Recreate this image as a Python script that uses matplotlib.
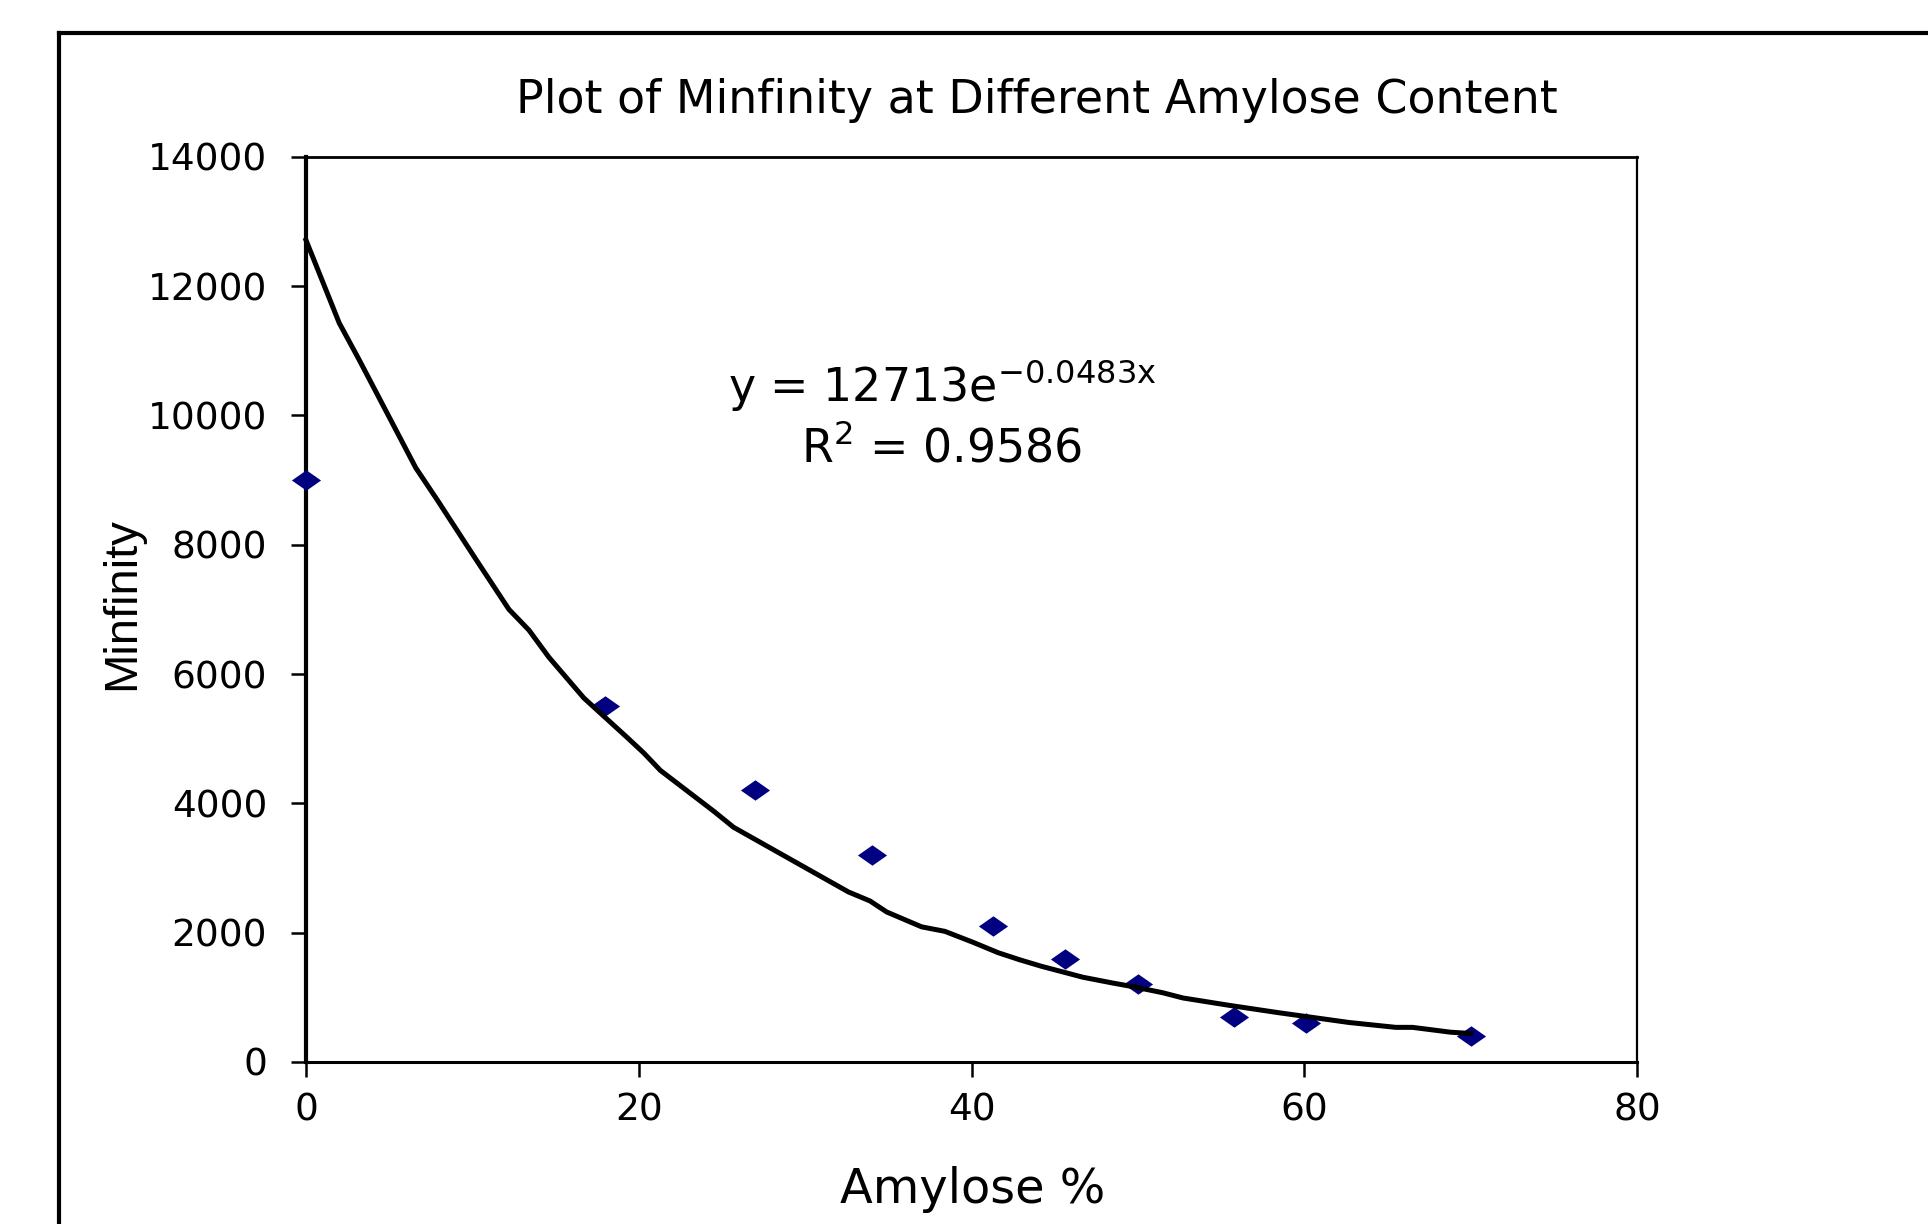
import matplotlib
matplotlib.use("Agg")
import matplotlib.pyplot as plt
from matplotlib.lines import Line2D

# data points
amylose = [0, 18, 27, 34, 41.3, 45.6, 50, 55.8, 60.1, 70]
minfinity = [9000, 5500, 4200, 3200, 2100, 1600, 1200, 700, 600, 400]

# exponential trendline as drawn in the chart
trend_x = [0, 2.0, 3.2, 6.6, 7.9, 10.2, 12.2, 13.4, 14.6, 16.7, 19.3, 20.3, 21.3,
           24.5, 25.7, 32.6, 33.9, 34.9, 37.0, 38.4, 40.1, 41.6, 42.9, 44.2, 46.7,
           48.5, 49.8, 51.5, 52.7, 55.5, 58.5, 62.7, 65.5, 66.5, 68.8, 70.0]
trend_y = [12713, 11430, 10860, 9190, 8690, 7780, 7000, 6680, 6260, 5630, 5020, 4780, 4510,
           3880, 3630, 2630, 2490, 2320, 2090, 2020, 1850, 1690, 1580, 1480, 1310,
           1220, 1160, 1070, 990, 875, 760, 610, 535, 535, 460, 440]

x_ticks = [0, 20, 40, 60, 80]
y_ticks = [0, 2000, 4000, 6000, 8000, 10000, 12000, 14000]

plt.rcParams['font.family'] = ['DejaVu Sans']

fig = plt.figure(figsize=(19.28, 12.24), dpi=100)
ax = fig.add_axes([0.1587, 0.1324, 0.6904, 0.7394])

# flattened diamond marker
diamond = [(-1, 0), (0, 0.7), (1, 0), (0, -0.7), (-1, 0)]
ax.plot(amylose, minfinity, linestyle='none', marker=diamond, markersize=21,
        color='#000080', markeredgewidth=0, clip_on=False, zorder=5)
ax.plot(trend_x, trend_y, color='black', linewidth=3.6, zorder=6, clip_on=False)

ax.set_xlim(0, 80)
ax.set_ylim(0, 14000)
ax.set_xticks(x_ticks)
ax.set_yticks(y_ticks)
ax.tick_params(axis='both', labelsize=27, length=11, width=1.8, direction='out')
ax.tick_params(axis='y', pad=17)
ax.tick_params(axis='x', pad=11)

ax.spines['left'].set_linewidth(3)
ax.spines['bottom'].set_linewidth(2.2)
ax.spines['top'].set_linewidth(2)
ax.spines['right'].set_linewidth(1.6)

# titles and labels
fig.text(0.5379, 0.9077, 'Plot of Minfinity at Different Amylose Content',
         fontsize=33, ha='center', va='baseline')
fig.text(0.5044, 0.0172, 'Amylose %', fontsize=34.5, ha='center', va='baseline')
fig.text(0.0635, 0.5065, 'Minfinity', fontsize=34, rotation=90, ha='center', va='center',
         family=['Liberation Sans Narrow', 'Liberation Sans', 'DejaVu Sans'])

# trendline equation
fig.text(0.4886, 1 - 401 / 1224, r'y = 12713e$^{\mathregular{-0.0483x}}$', fontsize=33,
         ha='center', va='baseline')
fig.text(0.4886, 1 - 462 / 1224, r'R$^{\mathregular{2}}$ = 0.9586', fontsize=33,
         ha='center', va='baseline')

# outer chart border (left and top edges)
fig.add_artist(Line2D([59 / 1928, 59 / 1928], [0, 1 - 33 / 1224], color='black', linewidth=3))
fig.add_artist(Line2D([59 / 1928, 1], [1 - 33 / 1224, 1 - 33 / 1224], color='black', linewidth=3))

fig.savefig('out.png', dpi=100)
